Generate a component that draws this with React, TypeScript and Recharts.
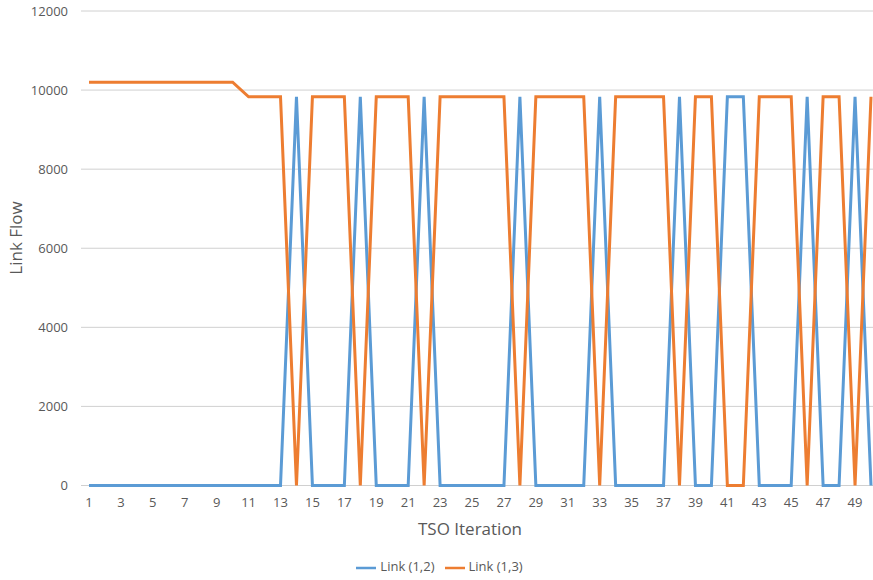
import React from 'react';
import { LineChart, Line, XAxis, YAxis, CartesianGrid, Legend, Label } from 'recharts';

const iterations: number[] = Array.from({ length: 50 }, (_, i) => i + 1);

// Link (1,2) flow per iteration (1..50)
const link12: number[] = [
  0, 0, 0, 0, 0, 0, 0, 0, 0, 0,
  0, 0, 0, 9830, 0, 0, 0, 9830, 0, 0,
  0, 9830, 0, 0, 0, 0, 0, 9830, 0, 0,
  0, 0, 9830, 0, 0, 0, 0, 9830, 0, 0,
  9830, 9830, 0, 0, 0, 9830, 0, 0, 9830, 0,
];

// Link (1,3) flow per iteration (1..50)
const link13: number[] = [
  10200, 10200, 10200, 10200, 10200, 10200, 10200, 10200, 10200, 10200,
  9830, 9830, 9830, 0, 9830, 9830, 9830, 0, 9830, 9830,
  9830, 0, 9830, 9830, 9830, 9830, 9830, 0, 9830, 9830,
  9830, 9830, 0, 9830, 9830, 9830, 9830, 0, 9830, 9830,
  0, 0, 9830, 9830, 9830, 0, 9830, 9830, 0, 9830,
];

const yTicks: number[] = [0, 2000, 4000, 6000, 8000, 10000, 12000];

const data = iterations.map((it, i) => ({
  it: String(it),
  a: link12[i],
  b: link13[i],
}));

const FONT = '"Open Sans", "Liberation Sans", sans-serif';
const TXT = '#595959';

export default function App() {
  return (
    <div style={{ position: 'absolute', left: 0, top: 0, width: 873, height: 580, background: '#fff' }}>
      <LineChart
        width={873}
        height={580}
        data={data}
        margin={{ top: 11, right: 0, left: 0, bottom: 0 }}
        style={{ fontFamily: FONT }}
      >
        <CartesianGrid vertical={false} stroke="#d0d0d0" strokeWidth={1} />
        <XAxis
          dataKey="it"
          interval={1}
          padding={{ left: 8, right: 2 }}
          tickLine={false}
          axisLine={false}
          tick={{ fill: TXT, fontSize: 13, fontFamily: FONT }}
          tickMargin={6}
          height={72}
        >
          <Label
            content={() => (
              <text x={470} y={535} textAnchor="middle" fill={TXT} fontSize={17} fontFamily={FONT}>
                TSO Iteration
              </text>
            )}
          />
        </XAxis>
        <YAxis
          width={81}
          domain={[0, 12000]}
          ticks={yTicks}
          tickLine={false}
          axisLine={false}
          tick={{ fill: TXT, fontSize: 13, fontFamily: FONT }}
          tickMargin={7}
        >
          <Label
            content={() => (
              <text
                x={22}
                y={238}
                textAnchor="middle"
                fill={TXT}
                fontSize={17}
                fontFamily={FONT}
                transform="rotate(-90 22 238)"
              >
                Link Flow
              </text>
            )}
          />
        </YAxis>
        <Legend
          verticalAlign="bottom"
          align="center"
          iconType="plainline"
          iconSize={20}
          wrapperStyle={{ fontSize: 13, fontFamily: FONT, paddingBottom: 2, paddingLeft: 8 }}
          formatter={(v: string) => <span style={{ color: TXT }}>{v}</span>}
        />
        <Line
          type="linear"
          dataKey="a"
          name="Link (1,2)"
          stroke="#5B9BD5"
          strokeWidth={3}
          dot={false}
          isAnimationActive={false}
        />
        <Line
          type="linear"
          dataKey="b"
          name="Link (1,3)"
          stroke="#ED7D31"
          strokeWidth={3}
          dot={false}
          isAnimationActive={false}
        />
      </LineChart>
    </div>
  );
}
